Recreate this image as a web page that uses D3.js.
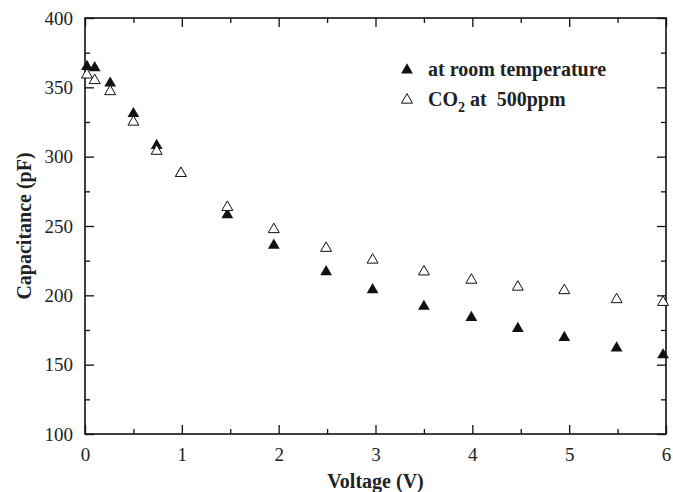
<!DOCTYPE html>
<html><head><meta charset="utf-8">
<script src="https://cdn.jsdelivr.net/npm/d3@7"></script>
<style>body{margin:0;background:#fff}svg{display:block}svg text{font-family:"Liberation Serif","Times New Roman",serif !important}</style>
</head><body>
<script>
const voltage = [0.02, 0.1, 0.26, 0.5, 0.74, 0.99, 1.47, 1.95, 2.49, 2.97, 3.5, 3.99, 4.47, 4.95, 5.49, 5.97];
const roomTemp = [365, 364, 353, 331, 308, 288, 258, 236, 217, 204, 192, 184, 176, 169.5, 162, 157];
const co2 = [359, 355, 347, 325, 304, 288, 263.5, 247.5, 234, 225.5, 217, 211, 206, 203.5, 197, 195];
const xTicks = [0, 1, 2, 3, 4, 5, 6];
const yTicks = [100, 150, 200, 250, 300, 350, 400];
const legendLabels = ["at room temperature", "CO\u2082 at  500ppm"];

const FONT = "Liberation Serif, Times New Roman, serif";
const W = 673, H = 492;
const m = {l: 85, r: 7, t: 18, b: 58};
const svg = d3.select("body").append("svg").attr("width", W).attr("height", H)
  .style("font-family", FONT);
const x = d3.scaleLinear().domain([0, 6]).range([m.l, W - m.r]);
const y = d3.scaleLinear().domain([100, 400]).range([H - m.b, m.t]);

const minorX = d3.range(0.5, 6, 1);
const minorY = d3.range(125, 400, 50);

function styleAxis(g) {
  g.attr("font-family", FONT);
  g.select(".domain").remove();
  g.selectAll("line").attr("stroke", "#111").attr("stroke-width", 1.3);
  g.selectAll("text").attr("font-size", 19).attr("fill", "#222").style("font-family", FONT);
}
// bottom
svg.append("g").attr("transform", `translate(0,${y(100)})`)
  .call(d3.axisBottom(x).tickValues(xTicks).tickSize(-9).tickPadding(14).tickFormat(d3.format("d")))
  .call(styleAxis);
svg.append("g").attr("transform", `translate(0,${y(100)})`)
  .call(d3.axisBottom(x).tickValues(minorX).tickSize(-5).tickFormat(""))
  .call(styleAxis);
// top
svg.append("g").attr("transform", `translate(0,${y(400)})`)
  .call(d3.axisTop(x).tickValues(xTicks).tickSize(-9).tickFormat(""))
  .call(styleAxis);
svg.append("g").attr("transform", `translate(0,${y(400)})`)
  .call(d3.axisTop(x).tickValues(minorX).tickSize(-5).tickFormat(""))
  .call(styleAxis);
// left
svg.append("g").attr("transform", `translate(${x(0)},0)`)
  .call(d3.axisLeft(y).tickValues(yTicks).tickSize(-9).tickPadding(12).tickFormat(d3.format("d")))
  .call(styleAxis);
svg.append("g").attr("transform", `translate(${x(0)},0)`)
  .call(d3.axisLeft(y).tickValues(minorY).tickSize(-5).tickFormat(""))
  .call(styleAxis);
// right
svg.append("g").attr("transform", `translate(${x(6)},0)`)
  .call(d3.axisRight(y).tickValues(yTicks).tickSize(-9).tickFormat(""))
  .call(styleAxis);
svg.append("g").attr("transform", `translate(${x(6)},0)`)
  .call(d3.axisRight(y).tickValues(minorY).tickSize(-5).tickFormat(""))
  .call(styleAxis);

// frame
svg.append("rect").attr("x", x(0)).attr("y", y(400))
  .attr("width", x(6) - x(0)).attr("height", y(100) - y(400))
  .attr("fill", "none").attr("stroke", "#111").attr("stroke-width", 1.6);

const tri = d3.symbol().type(d3.symbolTriangle).size(60);
const triH = d3.symbol().type(d3.symbolTriangle).size(52);

svg.append("g").selectAll("path").data(voltage).join("path")
  .attr("d", tri).attr("transform", (d, i) => `translate(${x(d)},${y(roomTemp[i])})`)
  .attr("fill", "#111");
svg.append("g").selectAll("path").data(voltage).join("path")
  .attr("d", triH).attr("transform", (d, i) => `translate(${x(d)},${y(co2[i])})`)
  .attr("fill", "#fff").attr("stroke", "#111").attr("stroke-width", 1);

// legend
const lg = svg.append("g");
lg.append("path").attr("d", tri).attr("transform", "translate(407,70)").attr("fill", "#111");
lg.append("path").attr("d", triH).attr("transform", "translate(407,100)")
  .attr("fill", "#fff").attr("stroke", "#111").attr("stroke-width", 1);
lg.append("text").attr("x", 428).attr("y", 76).attr("font-size", 20).attr("font-weight", "bold")
  .attr("fill", "#222").text(legendLabels[0]);
const t2 = lg.append("text").attr("x", 428).attr("y", 106).attr("font-size", 20).attr("font-weight", "bold")
  .attr("fill", "#222").attr("xml:space", "preserve").style("white-space", "pre");
t2.append("tspan").text("CO");
t2.append("tspan").attr("font-size", 14).attr("dy", 6).text("2");
t2.append("tspan").attr("dy", -6).text(" at  500ppm");

// axis titles
svg.append("text").attr("x", (x(0) + x(6)) / 2).attr("y", 488).attr("text-anchor", "middle")
  .attr("font-size", 20).attr("font-weight", "bold").attr("fill", "#222").text("Voltage (V)");
svg.append("text").attr("transform", `translate(31,${(y(100) + y(400)) / 2}) rotate(-90)`)
  .attr("text-anchor", "middle").attr("font-size", 20).attr("font-weight", "bold")
  .attr("fill", "#222").text("Capacitance (pF)");
</script>
</body></html>
